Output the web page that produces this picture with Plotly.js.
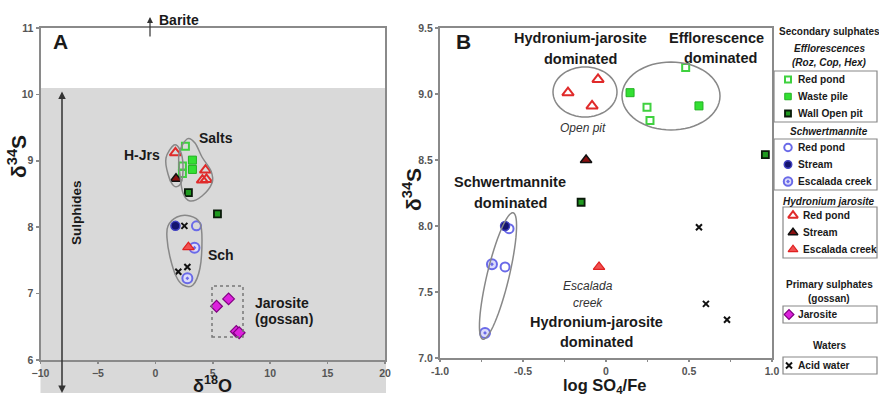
<!DOCTYPE html>
<html><head><meta charset="utf-8">
<script src="https://cdn.plot.ly/plotly-3.0.1.min.js"></script>
<style>html,body{margin:0;padding:0;background:#fff}#chart{width:879px;height:397px}</style>
</head><body><div id="chart"></div>
<script>
// ================= DATA =================
// Panel A : d18O (x) vs d34S (y)
const effRedPondA_x = [2.62, 2.36, 2.36];
const effRedPondA_y = [9.22, 8.92, 8.81];
const effWasteA_x = [3.23, 3.23];
const effWasteA_y = [9.01, 8.87];
const effWallA_x = [2.88, 5.41];
const effWallA_y = [8.52, 8.20];
const schRedPondA_x = [3.58];
const schRedPondA_y = [8.02];
const schStreamA_x = [1.75];
const schStreamA_y = [8.02];
const schEscA_x = [3.41, 2.79];
const schEscA_y = [7.69, 7.23];
const hjRedPondA_x = [1.75, 4.37, 4.10, 4.45];
const hjRedPondA_y = [9.12, 8.86, 8.71, 8.72];
const hjStreamA_x = [1.80];
const hjStreamA_y = [8.73];
const hjEscA_x = [2.88];
const hjEscA_y = [7.70];
const jarositeA_x = [5.33, 6.38, 7.05, 7.30];
const jarositeA_y = [6.81, 6.92, 6.43, 6.41];
const acidA_x = [2.53, 2.79, 2.00];
const acidA_y = [8.02, 7.40, 7.33];

// Panel B : log SO4/Fe (x) vs d34S (y)
const effRedPondB_x = [0.48, 0.247, 0.265];
const effRedPondB_y = [9.20, 8.90, 8.80];
const effWasteB_x = [0.145, 0.56];
const effWasteB_y = [9.01, 8.91];
const effWallB_x = [0.96, -0.15];
const effWallB_y = [8.54, 8.18];
const schRedPondB_x = [-0.584, -0.608];
const schRedPondB_y = [7.98, 7.69];
const schStreamB_x = [-0.608];
const schStreamB_y = [8.00];
const schEscB_x = [-0.687, -0.729];
const schEscB_y = [7.71, 7.19];
const hjRedPondB_x = [-0.229, -0.048, -0.084];
const hjRedPondB_y = [9.01, 9.11, 8.91];
const hjStreamB_x = [-0.12];
const hjStreamB_y = [8.50];
const hjEscB_x = [-0.042];
const hjEscB_y = [7.69];
const acidB_x = [0.56, 0.602, 0.729];
const acidB_y = [7.99, 7.41, 7.29];

// Tick labels
const xTicksA = [-10, -5, 0, 5, 10, 15, 20];
const yTicksA = [6, 7, 8, 9, 10, 11];
const xTicksB = [-1, -0.75, -0.5, -0.25, 0, 0.25, 0.5, 0.75, 1];
const xTickTextB = ['-1.0', '', '-0.5', '', '0', '', '0.5', '', '1.0'];
const yTicksB = [7, 7.5, 8, 8.5, 9, 9.5];
const yTickTextB = ['7.0', '7.5', '8.0', '8.5', '9.0', '9.5'];

// Legend labels
const legendEffl = ['Red pond', 'Waste pile', 'Wall Open pit'];
const legendSchw = ['Red pond', 'Stream', 'Escalada creek'];
const legendHJ = ['Red pond', 'Stream', 'Escalada creek'];
const legendPrim = ['Jarosite'];
const legendWater = ['Acid water'];

// ================= STYLES =================
const FONT = 'Liberation Sans, Arial, sans-serif';
const S = {
  effRed:   {symbol:'square-open', size:7, color:'#3fd13f', line:{width:2, color:'#3fd13f'}},
  effWaste: {symbol:'square', size:8, color:'#33e033', line:{width:1, color:'#22b022'}},
  effWall:  {symbol:'square', size:7, color:'#1f9a1f', line:{width:1.8, color:'#0a1a0a'}},
  schRed:   {symbol:'circle-open', size:9, color:'#6a6ae8', line:{width:2, color:'#6a6ae8'}},
  schStream:{symbol:'circle', size:9, color:'#14146e', line:{width:1.5, color:'#4040c0'}},
  schEsc:   {symbol:'circle-dot', size:10, color:'#dcdcfa', line:{width:2, color:'#6a6ae8'}},
  hjRed:    {symbol:'triangle-up-open', size:10, color:'#e02a2a', line:{width:2, color:'#e02a2a'}},
  hjStream: {symbol:'triangle-up', size:10, color:'#8a1010', line:{width:1.5, color:'#111'}},
  hjEsc:    {symbol:'triangle-up', size:10, color:'#f05050', line:{width:1.2, color:'#e02020'}},
  jaro:     {symbol:'diamond', size:9, color:'#dd22dd', line:{width:1.2, color:'#800080'}},
  acid:     {symbol:'x-thin', size:6, color:'#111', line:{width:2, color:'#111'}}
};

function tr(x, y, st, xa, ya) {
  return {x:x, y:y, type:'scatter', mode:'markers', marker:st, xaxis:xa, yaxis:ya,
          showlegend:false, hoverinfo:'skip', cliponaxis:false};
}

const traces = [
  tr(effRedPondA_x, effRedPondA_y, S.effRed, 'x', 'y'),
  tr(effWasteA_x, effWasteA_y, S.effWaste, 'x', 'y'),
  tr(effWallA_x, effWallA_y, S.effWall, 'x', 'y'),
  tr(schRedPondA_x, schRedPondA_y, S.schRed, 'x', 'y'),
  tr(schStreamA_x, schStreamA_y, S.schStream, 'x', 'y'),
  tr(schEscA_x, schEscA_y, S.schEsc, 'x', 'y'),
  tr(hjRedPondA_x, hjRedPondA_y, S.hjRed, 'x', 'y'),
  tr(hjStreamA_x, hjStreamA_y, S.hjStream, 'x', 'y'),
  tr(hjEscA_x, hjEscA_y, S.hjEsc, 'x', 'y'),
  tr(jarositeA_x, jarositeA_y, S.jaro, 'x', 'y'),
  tr(acidA_x, acidA_y, S.acid, 'x', 'y'),

  tr(effRedPondB_x, effRedPondB_y, S.effRed, 'x2', 'y2'),
  tr(effWasteB_x, effWasteB_y, S.effWaste, 'x2', 'y2'),
  tr(effWallB_x, effWallB_y, S.effWall, 'x2', 'y2'),
  tr(schRedPondB_x, schRedPondB_y, S.schRed, 'x2', 'y2'),
  tr(schStreamB_x, schStreamB_y, S.schStream, 'x2', 'y2'),
  tr(schEscB_x, schEscB_y, S.schEsc, 'x2', 'y2'),
  tr(hjRedPondB_x, hjRedPondB_y, S.hjRed, 'x2', 'y2'),
  tr(hjStreamB_x, hjStreamB_y, S.hjStream, 'x2', 'y2'),
  tr(hjEscB_x, hjEscB_y, S.hjEsc, 'x2', 'y2'),
  tr(acidB_x, acidB_y, S.acid, 'x2', 'y2')
];

// ================= LAYOUT HELPERS (pixel -> paper) =================
const W = 879, H = 397;
const px = v => v / W;
const py = v => 1 - v / H;

function smoothPath(pts) {
  const n = pts.length;
  const P = i => pts[(i + n) % n];
  let d = 'M ' + px(P(0)[0]) + ',' + py(P(0)[1]);
  for (let i = 0; i < n; i++) {
    const p0 = P(i - 1), p1 = P(i), p2 = P(i + 1), p3 = P(i + 2);
    const c1 = [p1[0] + (p2[0] - p0[0]) / 6, p1[1] + (p2[1] - p0[1]) / 6];
    const c2 = [p2[0] - (p3[0] - p1[0]) / 6, p2[1] - (p3[1] - p1[1]) / 6];
    d += ' C ' + px(c1[0]) + ',' + py(c1[1]) + ' ' + px(c2[0]) + ',' + py(c2[1]) + ' ' + px(p2[0]) + ',' + py(p2[1]);
  }
  return d + ' Z';
}
function ellipsePath(cx, cy, rx, ry, angDeg) {
  const a = angDeg * Math.PI / 180;
  let d = '';
  for (let k = 0; k <= 64; k++) {
    const t = 2 * Math.PI * k / 64;
    const ex = rx * Math.cos(t), ey = ry * Math.sin(t);
    const X = cx + ex * Math.cos(a) - ey * Math.sin(a);
    const Y = cy + ex * Math.sin(a) + ey * Math.cos(a);
    d += (k === 0 ? 'M ' : ' L ') + px(X) + ',' + py(Y);
  }
  return d + ' Z';
}

const outline = {color:'#888', width:1.5};
const shapes = [
  // grey field of panel A
  {type:'rect', xref:'paper', yref:'paper', x0:px(40.5), x1:px(386), y0:py(393), y1:py(88),
   fillcolor:'#d9d9d9', line:{width:0}, layer:'below'},
  // Salts outline
  {type:'path', xref:'paper', yref:'paper', line:outline,
   path: smoothPath([[187,139],[195,143],[202,157],[211,171],[212,183],[202,196],[190,201],[183,193],[180,175],[179,154]])},
  // H-Jrs outline
  {type:'path', xref:'paper', yref:'paper', line:outline,
   path: smoothPath([[174,145],[180,150],[183,165],[181,183],[174,186],[168,174],[166,158]])},
  // Sch outline
  {type:'path', xref:'paper', yref:'paper', line:outline,
   path: smoothPath([[177,217],[190,216],[200,223],[202,240],[200,268],[193,285],[183,285],[176,276],[170,257],[167,238],[168,226]])},
  // Jarosite dotted box
  {type:'rect', xref:'paper', yref:'paper', x0:px(212), x1:px(243), y0:py(337), y1:py(286),
   line:{color:'#777', width:1.5, dash:'dot'}},
  // Panel B ellipses
  {type:'path', xref:'paper', yref:'paper', line:outline, path: ellipsePath(585, 92, 32, 25, 0)},
  {type:'path', xref:'paper', yref:'paper', line:outline, path: ellipsePath(671, 96, 49, 34, 0)},
  {type:'path', xref:'paper', yref:'paper', line:outline, path: ellipsePath(498, 276, 11, 65, 13.5)}
];

const ann = [];
function txt(x, y, text, size, opts) {
  const o = Object.assign({xref:'paper', yref:'paper', x:px(x), y:py(y), text:text, showarrow:false,
    xanchor:'center', yanchor:'middle', font:{family:FONT, size:size, color:'#1a1a1a', weight:'bold'}}, opts || {});
  ann.push(o);
}

// Panel A texts
txt(60, 42, 'A', 21);
txt(157, 20, 'Barite', 14, {xanchor:'left'});
txt(142, 155, 'H-Jrs', 14);
txt(216, 138, 'Salts', 14);
txt(221, 255, 'Sch', 14);
txt(253, 303, 'Jarosite', 14, {xanchor:'left'});
txt(253, 319, '(gossan)', 14, {xanchor:'left'});
txt(76, 213, 'Sulphides', 13.5, {textangle:-90});
txt(17, 157, 'δ<sup>34</sup>S', 21, {textangle:-90});
txt(212, 397, 'δ<sup>18</sup>O', 18, {yanchor:'bottom', borderpad:0});
// arrows
ann.push({xref:'paper', yref:'paper', x:px(62), y:py(393), ax:0, ay:-303, text:'', showarrow:true,
  arrowside:'end+start', arrowhead:2, arrowsize:1, arrowwidth:1.5, arrowcolor:'#333'});
ann.push({xref:'paper', yref:'paper', x:px(150), y:py(17), ax:0, ay:21, text:'', showarrow:true,
  arrowhead:2, arrowsize:1, arrowwidth:1.2, arrowcolor:'#333'});

// Panel B texts
txt(463, 42, 'B', 21);
txt(580, 38, 'Hydronium-jarosite', 14.5);
txt(580, 59, 'dominated', 14.5);
txt(716, 38, 'Efflorescence', 14.5);
txt(720, 58, 'dominated', 14.5);
txt(583, 128, 'Open pit', 12, {font:{family:FONT, size:12, color:'#333', style:'italic'}});
txt(510, 182, 'Schwertmannite', 14.5);
txt(510, 203, 'dominated', 14.5);
txt(588, 286, 'Escalada', 12, {font:{family:FONT, size:12, color:'#333', style:'italic'}});
txt(588, 303, 'creek', 12, {font:{family:FONT, size:12, color:'#333', style:'italic'}});
txt(596, 322, 'Hydronium-jarosite', 14.5);
txt(596, 342, 'dominated', 14.5);
txt(412, 190, 'δ<sup>34</sup>S', 21, {textangle:-90});
txt(604, 397, 'log SO<sub>4</sub>/Fe', 16.5, {yanchor:'bottom', borderpad:0});

// ================= LEGEND (custom boxes) =================
const LX = 829;
const titleB = (y, t) => txt(LX, y, t, 10);
const titleBI = (y, t) => txt(LX, y, t, 10, {font:{family:FONT, size:10, color:'#1a1a1a', weight:'bold', style:'italic'}});
titleB(32, 'Secondary sulphates');
titleBI(48, 'Efflorescences');
titleBI(63, '(Roz, Cop, Hex)');
titleBI(131, 'Schwertmannite');
titleBI(201, 'Hydronium jarosite');
titleB(284, 'Primary sulphates');
titleB(298, '(gossan)');
titleB(345, 'Waters');

const boxes = [
  {top:71, left:774, swX:788, txX:796, labels:legendEffl, styles:[S.effRed, S.effWaste, S.effWall]},
  {top:139, left:774, swX:788, txX:796, labels:legendSchw, styles:[S.schRed, S.schStream, S.schEsc]},
  {top:207, left:783, swX:793, txX:801, labels:legendHJ, styles:[S.hjRed, S.hjStream, S.hjEsc]},
  {top:306, left:783, swX:789, txX:796, labels:legendPrim, styles:[S.jaro]},
  {top:357, left:783, swX:789, txX:796, labels:legendWater, styles:[S.acid]}
];
const STEP = 17, PAD = 8.5;
boxes.forEach(b => {
  const n = b.labels.length;
  const h = PAD * 2 + (n - 1) * STEP;
  shapes.push({type:'rect', xref:'paper', yref:'paper', x0:px(b.left), x1:px(877), y0:py(b.top + h), y1:py(b.top),
    line:{color:'#888', width:1.2}});
  b.labels.forEach((lab, i) => {
    const yy = b.top + PAD + i * STEP;
    txt(b.txX, yy, lab, 10.2, {xanchor:'left'});
    const st = Object.assign({}, b.styles[i]);
    st.size = Math.max(6, st.size - 1.5);
    traces.push({x:[b.swX], y:[yy], type:'scatter', mode:'markers', marker:st, xaxis:'x3', yaxis:'y3',
      showlegend:false, hoverinfo:'skip', cliponaxis:false});
  });
});

const axBase = {showgrid:false, zeroline:false, showline:true, linecolor:'#8a8a8a', linewidth:2, mirror:true,
  ticks:'outside', ticklen:3, tickwidth:1.5, tickcolor:'#8a8a8a',
  tickfont:{family:FONT, size:10.5, color:'#555', weight:'bold'}, fixedrange:true};

const layout = {
  width:W, height:H, margin:{l:0, r:0, t:0, b:0},
  paper_bgcolor:'#fff', plot_bgcolor:'rgba(0,0,0,0)', showlegend:false, hovermode:false,
  font:{family:FONT},
  xaxis: Object.assign({}, axBase, {domain:[px(40.5), px(385)], range:[-10, 20], tickvals:xTicksA, anchor:'y', ticklen:2}),
  yaxis: Object.assign({}, axBase, {domain:[py(360), py(28)], range:[6, 11], tickvals:yTicksA, anchor:'x'}),
  xaxis2: Object.assign({}, axBase, {domain:[px(440), px(772)], range:[-1, 1], tickvals:xTicksB, ticktext:xTickTextB, anchor:'y2', ticklen:2}),
  yaxis2: Object.assign({}, axBase, {domain:[py(358), py(28)], range:[7, 9.5], tickvals:yTicksB, ticktext:yTickTextB, anchor:'x2'}),
  xaxis3: {domain:[0, 1], range:[0, W], visible:false, anchor:'y3', fixedrange:true},
  yaxis3: {domain:[0, 1], range:[H, 0], visible:false, anchor:'x3', fixedrange:true},
  shapes: shapes,
  annotations: ann
};

Plotly.newPlot('chart', traces, layout, {displayModeBar:false, staticPlot:true});
</script>
</body></html>
